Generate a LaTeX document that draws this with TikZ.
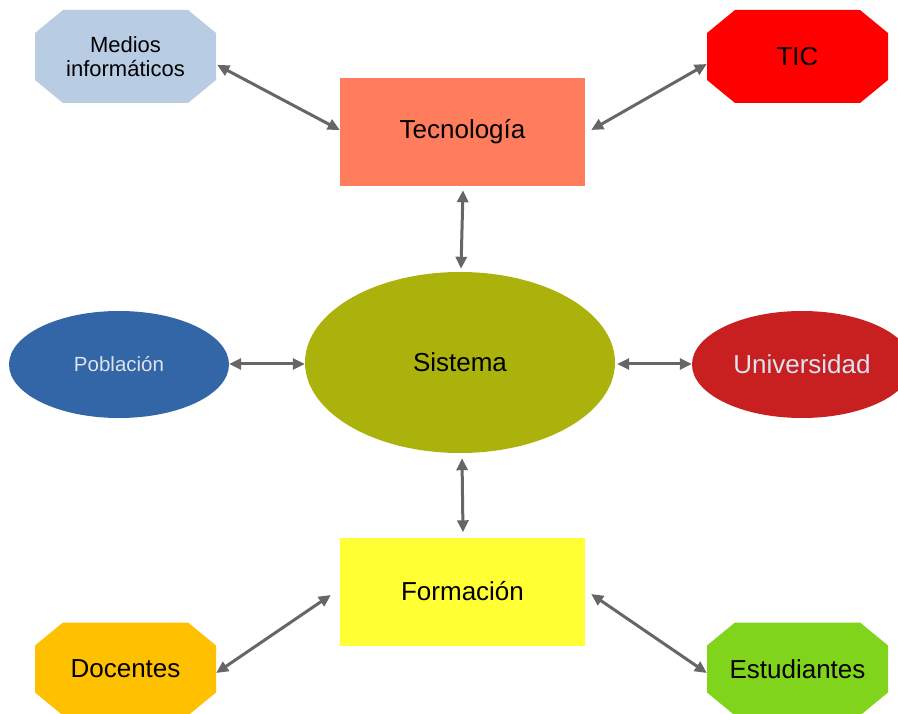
\documentclass[tikz,border=0pt]{standalone}
\usepackage{fontspec}
\setmainfont{Liberation Sans}
\usetikzlibrary{shapes.geometric,arrows.meta,calc}

\definecolor{medioscol}{HTML}{B8CCE4}
\definecolor{ticcol}{HTML}{FF0000}
\definecolor{teccol}{HTML}{FF7C5C}
\definecolor{syscol}{HTML}{ACB20C}
\definecolor{pobcol}{HTML}{3366A6}
\definecolor{unicol}{HTML}{C82020}
\definecolor{formcol}{HTML}{FFFF33}
\definecolor{doccol}{HTML}{FFC000}
\definecolor{estcol}{HTML}{80D41C}
\definecolor{linkcol}{HTML}{666666}
\definecolor{palecol}{HTML}{DCE3F0}

\tikzset{
  x=1pt, y=-1pt,
  % rectangle node whose corners are cut off: 28pt across, 23pt down
  octobox/.style={rectangle, minimum width=181pt, minimum height=93pt,
    inner sep=0pt, draw=none, align=center, font=\fontsize{26}{29}\selectfont,
    path picture={
      \fill[#1]
        ([xshift=28pt]path picture bounding box.north west)
        -- ([xshift=-28pt]path picture bounding box.north east)
        -- ([yshift=-23pt]path picture bounding box.north east)
        -- ([yshift=23pt]path picture bounding box.south east)
        -- ([xshift=-28pt]path picture bounding box.south east)
        -- ([xshift=28pt]path picture bounding box.south west)
        -- ([yshift=23pt]path picture bounding box.south west)
        -- ([yshift=-23pt]path picture bounding box.north west)
        -- cycle;
    }},
  rectbox/.style={rectangle, minimum width=245pt, minimum height=108pt,
    inner sep=0pt, draw=none, font=\fontsize{26}{29}\selectfont},
  ovalbox/.style={ellipse, inner sep=0pt, draw=none,
    font=\fontsize{26}{29}\selectfont},
  link/.style={draw=linkcol, line width=3pt,
    {Triangle[length=12pt,width=11pt]}-{Triangle[length=12pt,width=11pt]}}
}

\begin{document}
\begin{tikzpicture}
\useasboundingbox (0,0) rectangle (898,714);

% outer ring
\node[octobox=medioscol, font=\fontsize{22}{24}\selectfont] (med) at (125.5,56.5) {Medios\\informáticos};
\node[octobox=ticcol] (tic) at (797.5,56.5) {TIC};
\node[octobox=doccol] (doc) at (125.5,669) {Docentes};
\node[octobox=estcol] (est) at (797.5,669) {Estudiantes};

% middle column
\node[rectbox, fill=teccol] (tec) at (462.5,132) {Tecnología};
\node[rectbox, fill=formcol] (form) at (462.5,591.5) {Formación};
\node[ovalbox, fill=syscol, minimum width=310pt, minimum height=181pt] (sys) at (460,362.5) {Sistema};

% side ovals
\node[ovalbox, fill=pobcol, text=palecol, minimum width=220pt, minimum height=107pt,
  font=\fontsize{20.5}{23}\selectfont] (pob) at (119,364.5) {Población};
\node[ovalbox, fill=unicol, text=palecol, minimum width=220pt, minimum height=107pt] (uni) at (802,364.5) {Universidad};

% connectors
\draw[link] ($(med.east)+(1,8.5)$) -- ($(tec.west)+(0,-2)$);
\draw[link] ($(tic.west)+(0,7.5)$) -- ($(tec.east)+(6,-2)$);
\draw[link] ($(tec.south)+(0.5,4)$) -- ($(sys.north)+(1,-3)$);
\draw[link] ($(sys.south)+(2,5)$) -- ($(form.north)+(0.5,-5)$);
\draw[link] ($(pob.east)+(0,-0.5)$) -- ($(sys.west)+(0,1.5)$);
\draw[link] ($(sys.east)+(2,1.5)$) -- ($(uni.west)+(0,-0.5)$);
\draw[link] ($(form.west)+(-9,3.5)$) -- ($(doc.east)+(0,4)$);
\draw[link] ($(form.east)+(6,2.5)$) -- ($(est.west)+(0,4)$);
\end{tikzpicture}
\end{document}
